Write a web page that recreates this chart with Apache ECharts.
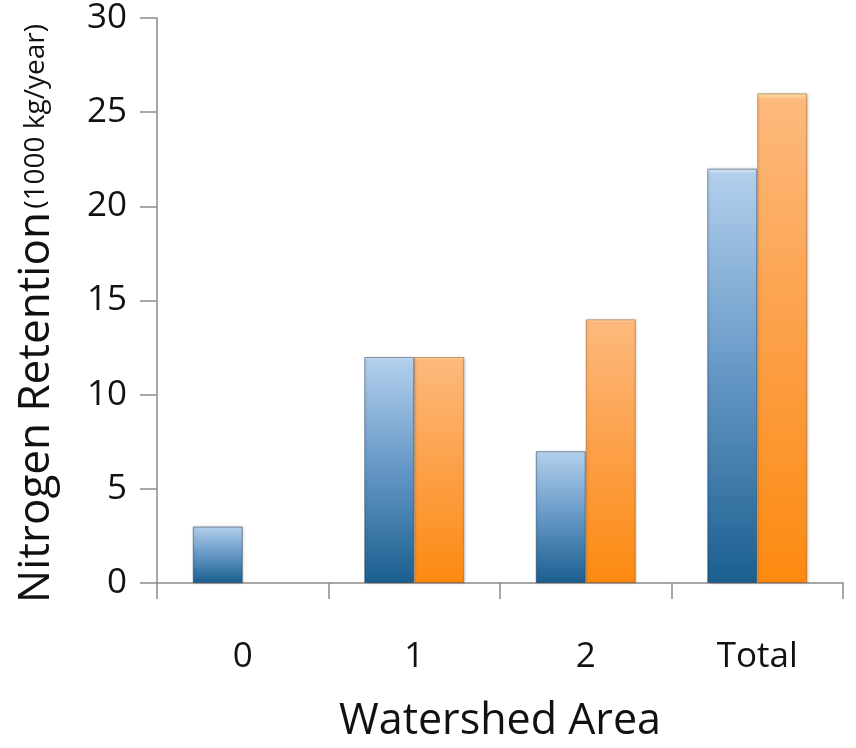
<!DOCTYPE html>
<html>
<head>
<meta charset="utf-8">
<script src="https://cdn.jsdelivr.net/npm/echarts@6/dist/echarts.min.js"></script>
<style>html,body{margin:0;padding:0;background:#fff}#c{width:856px;height:748px}</style>
</head>
<body>
<div id="c"></div>
<script>
const categories = ['0', '1', '2', 'Total'];
const seriesA = [3, 12, 7, 22];
const seriesB = [null, 12, 14, 26];
const yTicks = [0, 5, 10, 15, 20, 25, 30];

const FONT = '"Open Sans", "Liberation Sans", sans-serif';
const chart = echarts.init(document.getElementById('c'), null, {renderer: 'canvas'});

function grad(stops) {
  return new echarts.graphic.LinearGradient(0, 0, 0, 1, stops.map(c => ({offset: c[0], color: c[1]})));
}
const blueGrad = grad([[0, '#e2effa'], [0.012, '#b2cfec'], [0.5, '#6497c6'], [1, '#1b5f8f']]);
const orangeGrad = grad([[0, '#ffe6b0'], [0.012, '#fdb97c'], [0.5, '#fca048'], [1, '#fc8a10']]);

chart.setOption({
  animation: false,
  backgroundColor: '#fff',
  grid: {left: 157, right: 13, top: 18, bottom: 162},
  xAxis: {
    type: 'category',
    data: categories,
    name: 'Watershed Area',
    nameLocation: 'middle',
    nameGap: 117,
    nameTextStyle: {fontFamily: FONT, fontSize: 43, color: '#111'},
    axisLine: {lineStyle: {color: '#8a8a8a', width: 1.5}},
    axisTick: {show: true, length: 16, lineStyle: {color: '#8a8a8a', width: 1.5}},
    axisLabel: {fontFamily: FONT, fontSize: 35, color: '#111', margin: 57}
  },
  yAxis: {
    type: 'value',
    min: yTicks[0],
    max: yTicks[yTicks.length - 1],
    interval: yTicks[1] - yTicks[0],
    name: '{a|Nitrogen Retention} {b|(1000 kg/year)}',
    nameLocation: 'middle',
    nameGap: 99,
    nameRotate: 90,
    nameTextStyle: {
      padding: [0, 26, 0, 0],
      rich: {
        a: {fontFamily: FONT, fontSize: 44, color: '#111'},
        b: {fontFamily: FONT, fontSize: 28, color: '#111'}
      }
    },
    splitLine: {show: false},
    axisLine: {show: true, lineStyle: {color: '#8a8a8a', width: 1.5}},
    axisTick: {show: true, length: 17, lineStyle: {color: '#8a8a8a', width: 1.5}},
    axisLabel: {fontFamily: FONT, fontSize: 35, color: '#111', margin: 30}
  },
  series: [
    {
      type: 'bar',
      data: seriesA,
      barWidth: 50,
      barGap: '0%',
      itemStyle: {color: blueGrad, borderColor: 'rgba(30,60,90,0.5)', borderWidth: 1,
        shadowColor: 'rgba(0,0,0,0.2)', shadowBlur: 3, shadowOffsetX: 1, shadowOffsetY: 0}
    },
    {
      type: 'bar',
      data: seriesB,
      barWidth: 50,
      barGap: '0%',
      itemStyle: {color: orangeGrad, borderColor: 'rgba(150,80,20,0.5)', borderWidth: 1,
        shadowColor: 'rgba(0,0,0,0.2)', shadowBlur: 3, shadowOffsetX: 1, shadowOffsetY: 0}
    }
  ]
});
</script>
</body>
</html>
